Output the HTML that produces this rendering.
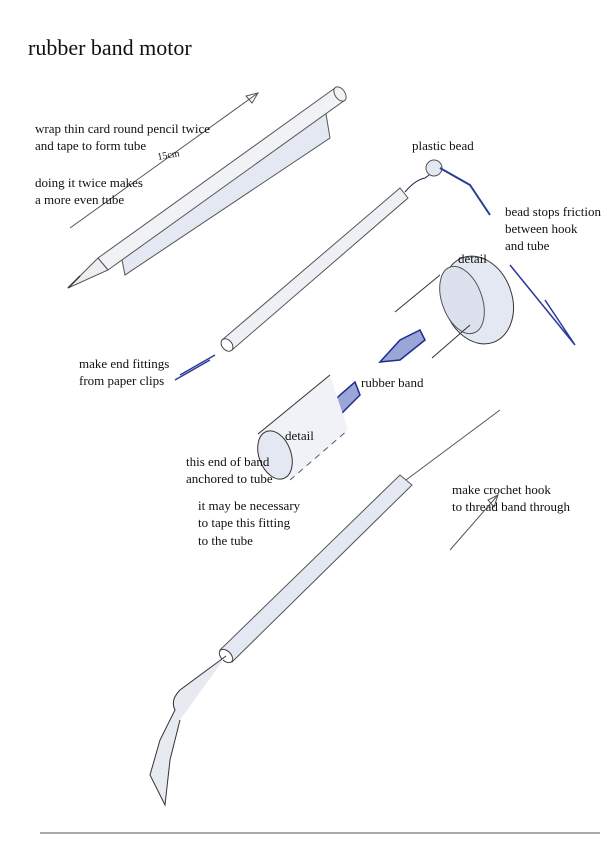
<!DOCTYPE html>
<html><head><style>
body{margin:0;background:#fff;}
svg{display:block}
text{font-family:"Liberation Serif",serif;font-size:13px;fill:#111}
</style></head><body>
<svg width="612" height="842" viewBox="0 0 612 842" xmlns="http://www.w3.org/2000/svg">
<rect width="612" height="842" fill="#fff"/>
<text x="28" y="55" style="font-size:22px">rubber band motor</text>
<!-- pencil and card -->
<polygon points="120,250 125,275 330,138 325,108" fill="#e4e8f2" stroke="#555" stroke-width="1"/>
<polygon points="98,258 108,270 345,100 335,88" fill="#f1f2f6" stroke="#555" stroke-width="1"/>
<polygon points="68,288 98,258 108,270" fill="#eee" stroke="#555"/>
<line x1="68" y1="288" x2="80" y2="276" stroke="#333" stroke-width="1.5"/>
<ellipse cx="340" cy="94" rx="5" ry="8" fill="#f1f2f6" stroke="#555" transform="rotate(-35 340 94)"/>
<line x1="70" y1="228" x2="258" y2="93" stroke="#555"/>
<polygon points="258,93 246,96 252,103" fill="none" stroke="#555"/>
<text x="158" y="160" style="font-size:10px" transform="rotate(-10 158 160)">15cm</text>
<text x="35" y="133">wrap thin card round pencil twice</text>
<text x="35" y="150">and tape to form tube</text>
<text x="35" y="187">doing it twice makes</text>
<text x="35" y="204">a more even tube</text>
<!-- tube -->
<polygon points="222,340 232,350 408,198 400,188" fill="#eef0f5" stroke="#555"/>
<ellipse cx="227" cy="345" rx="5" ry="7" fill="#fff" stroke="#444" transform="rotate(-40 227 345)"/>
<path d="M405,192 Q415,180 425,178 L433,172" stroke="#224" fill="none"/>
<circle cx="434" cy="168" r="8" fill="#e4e8f2" stroke="#555"/>
<path d="M440,168 L470,185 L490,215" stroke="#2a3b9a" fill="none" stroke-width="2"/>
<text x="412" y="150">plastic bead</text>
<text x="505" y="216">bead stops friction</text>
<text x="505" y="233">between hook</text>
<text x="505" y="250">and tube</text>
<!-- clips -->
<path d="M175,380 L210,360 M180,375 L215,355" stroke="#2a3b9a" stroke-width="1.5"/>
<text x="79" y="368">make end fittings</text>
<text x="79" y="385">from paper clips</text>
<!-- top detail -->
<ellipse cx="478" cy="300" rx="34" ry="45" fill="#e4e8f2" stroke="#333" transform="rotate(-20 478 300)"/>
<ellipse cx="462" cy="300" rx="20" ry="35" fill="#dde1ee" stroke="#555" transform="rotate(-20 462 300)"/>
<line x1="395" y1="312" x2="440" y2="275" stroke="#333"/>
<line x1="432" y1="358" x2="470" y2="325" stroke="#333"/>
<path d="M510,265 L575,345 L545,300" stroke="#2a3b9a" fill="none" stroke-width="1.5"/>
<text x="458" y="263">detail</text>
<!-- rubber band -->
<path d="M380,362 L400,340 L420,330 L425,340 L400,360 Z" fill="#9aa6d8" stroke="#1d2c90" stroke-width="1.5"/>
<path d="M315,420 L340,395 L355,382 L360,395 L340,415 Z" fill="#9aa6d8" stroke="#1d2c90" stroke-width="1.5"/>
<text x="361" y="387">rubber band</text>
<!-- bottom detail -->
<polygon points="258,434 330,375 348,430 290,480" fill="#f0f2f7" stroke="none"/>
<line x1="258" y1="434" x2="330" y2="375" stroke="#333"/>
<line x1="290" y1="480" x2="348" y2="430" stroke="#557" stroke-dasharray="6,5"/>
<ellipse cx="275" cy="455" rx="16" ry="25" fill="#e4e8f2" stroke="#333" transform="rotate(-20 275 455)"/>
<text x="285" y="440">detail</text>
<text x="186" y="466">this end of band</text>
<text x="186" y="483">anchored to tube</text>
<text x="198" y="510">it may be necessary</text>
<text x="198" y="527">to tape this fitting</text>
<text x="198" y="545">to the tube</text>
<!-- crochet hook tube -->
<polygon points="220,650 232,662 412,485 400,475" fill="#e4e8f2" stroke="#555"/>
<ellipse cx="226" cy="656" rx="5" ry="8" fill="#fff" stroke="#444" transform="rotate(-45 226 656)"/>
<line x1="406" y1="480" x2="500" y2="410" stroke="#555"/>
<line x1="450" y1="550" x2="498" y2="495" stroke="#555"/>
<polygon points="498,495 488,500 494,507" fill="none" stroke="#555"/>
<path d="M226,656 L180,690 Q170,700 175,710 L160,740 L150,775 L165,805 L170,760 L180,720" stroke="#333" fill="#e8eaf2"/>
<text x="452" y="494">make crochet hook</text>
<text x="452" y="511">to thread band through</text>
<line x1="40" y1="833" x2="600" y2="833" stroke="#555"/>
</svg>
</body></html>
